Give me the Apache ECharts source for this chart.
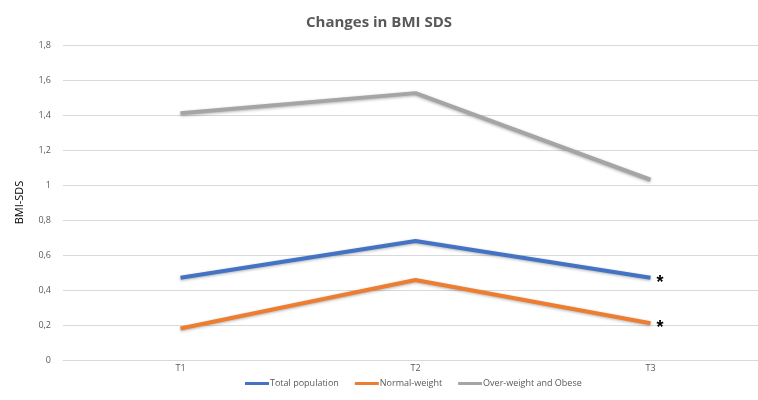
<!DOCTYPE html>
<html><head><meta charset="utf-8">
<script src="https://cdn.jsdelivr.net/npm/echarts@6/dist/echarts.min.js"></script>
<style>html,body{margin:0;padding:0;background:#fff}#c{width:758px;height:400px}</style>
</head><body><div id="c"></div>
<script>
const categories = ['T1', 'T2', 'T3'];
const totalPopulation = [0.47, 0.68, 0.47];
const normalWeight = [0.18, 0.457, 0.21];
const overweightObese = [1.41, 1.525, 1.03];
const seriesNames = ['Total population', 'Normal-weight', 'Over-weight and Obese'];
const significant = [true, true, false];

const colors = ['#4472C4', '#ED7D31', '#A5A5A5'];
const chart = echarts.init(document.getElementById('c'));
function mk(name, vals, color, sig) {
  return {
    name, type: 'line', data: vals.map((v, i) => (i === vals.length - 1 && sig) ? {
      value: v, label: { show: true, position: 'right', distance: 6, formatter: '*', fontSize: 18, fontWeight: 'bold', color: '#000', offset: [0, 5] }
    } : v),
    symbol: 'circle', symbolSize: 0, showSymbol: true,
    lineStyle: { width: 4, color, shadowColor: 'rgba(0,0,0,0.3)', shadowBlur: 3, shadowOffsetY: 1 },
    itemStyle: { color }
  };
}
chart.setOption({
  animation: false,
  title: { text: 'Changes in BMI SDS', left: 'center', top: 10, textStyle: { fontFamily: 'Open Sans', fontSize: 15, fontWeight: 'bold', color: '#595959' } },
  grid: { left: 63, width: 705, top: 45, bottom: 40, outerBoundsMode: 'none', containLabel: false },
  legend: { bottom: 7, left: 240, itemWidth: 24, itemHeight: 3, itemGap: 16, icon: 'rect',
    textStyle: { fontFamily: 'Open Sans', fontSize: 9, color: '#595959', padding: [0, 0, 0, -4] }, data: seriesNames },
  xAxis: { type: 'category', data: categories, boundaryGap: true,
    axisLine: { lineStyle: { color: '#d9d9d9' } }, axisTick: { show: false },
    axisLabel: { color: '#595959', fontFamily: 'Open Sans', fontSize: 9, margin: 4 } },
  yAxis: { type: 'value', min: 0, max: 1.8, interval: 0.2, name: 'BMI-SDS', nameLocation: 'middle', nameGap: 38,
    nameTextStyle: { color: '#000', fontFamily: 'Open Sans', fontSize: 11 },
    axisLabel: { color: '#595959', fontFamily: 'Open Sans', fontSize: 9, margin: 12,
      formatter: v => (Math.round(v * 10) / 10).toString().replace('.', ',') },
    splitLine: { lineStyle: { color: '#d9d9d9' } }, axisLine: { show: false }, axisTick: { show: false } },
  series: [
    mk(seriesNames[0], totalPopulation, colors[0], significant[0]),
    mk(seriesNames[1], normalWeight, colors[1], significant[1]),
    mk(seriesNames[2], overweightObese, colors[2], significant[2])
  ]
});
</script></body></html>
